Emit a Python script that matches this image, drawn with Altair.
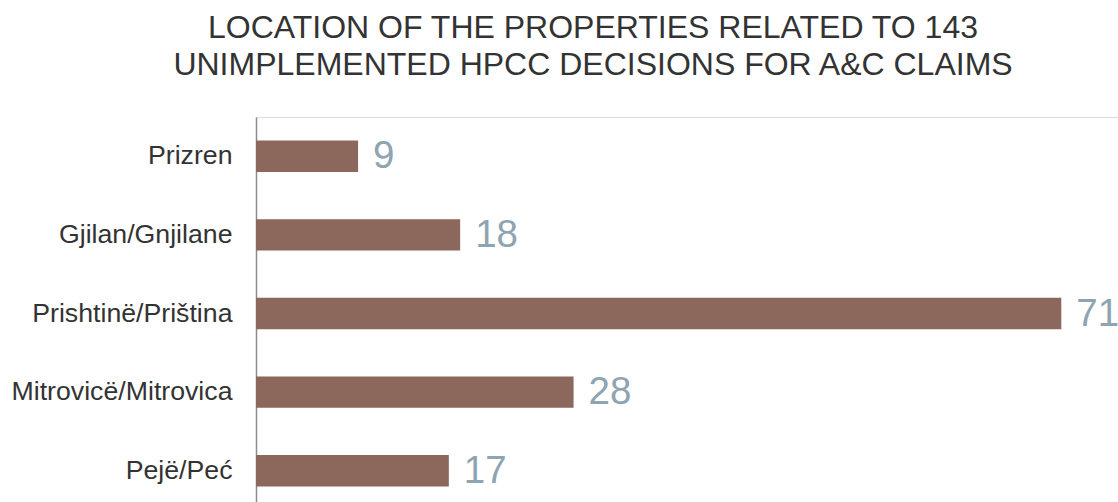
import altair as alt
import pandas as pd

# Municipalities (top to bottom) and number of properties per region
regions = [
    "Prizren",
    "Gjilan/Gnjilane",
    "Prishtinë/Priština",
    "Mitrovicë/Mitrovica",
    "Pejë/Peć",
]
counts = [9, 18, 71, 28, 17]

df = pd.DataFrame({"region": regions, "count": counts})

BAR_COLOR = "#8b675c"
VALUE_COLOR = "#8ea4b1"
FONT = "Liberation Sans"

y_enc = alt.Y(
    "region:N",
    sort=regions,
    title=None,
    scale=alt.Scale(paddingInner=0.6, paddingOuter=0.3),
    axis=alt.Axis(
        domain=True,
        domainColor="#8c8c8c",
        domainWidth=1.5,
        ticks=False,
        grid=False,
        labelFont=FONT,
        labelFontSize=26.7,
        labelColor="#333333",
        labelPadding=24,
        labelLimit=400,
    ),
)
x_enc = alt.X(
    "count:Q",
    title=None,
    scale=alt.Scale(domain=[0, 76], nice=False, zero=True),
    axis=None,
)

bars = alt.Chart(df).mark_bar(color=BAR_COLOR).encode(y=y_enc, x=x_enc)

values = alt.Chart(df).mark_text(
    align="left",
    baseline="middle",
    dx=15,
    font=FONT,
    fontSize=38.5,
    color=VALUE_COLOR,
).encode(y=y_enc, x=x_enc, text="count:Q")

chart = (
    alt.layer(bars, values)
    .properties(
        width=862,
        height=393,
        autosize=alt.AutoSizeParams(type="none"),
        padding={"left": 256, "top": 117, "right": 0, "bottom": 0},
        title=alt.TitleParams(
            text=[
                "LOCATION OF THE PROPERTIES RELATED TO 143",
                "UNIMPLEMENTED HPCC DECISIONS FOR A&C CLAIMS",
            ],
            font=FONT,
            fontSize=32,
            fontWeight="normal",
            color="#333333",
            anchor="middle",
            dx=-94,
            offset=35,
            lineHeight=37,
        ),
    )
    .configure_view(stroke=None)
    .configure(background="white")
)

chart.save("out.html", embed_options={"renderer": "svg", "actions": False})
